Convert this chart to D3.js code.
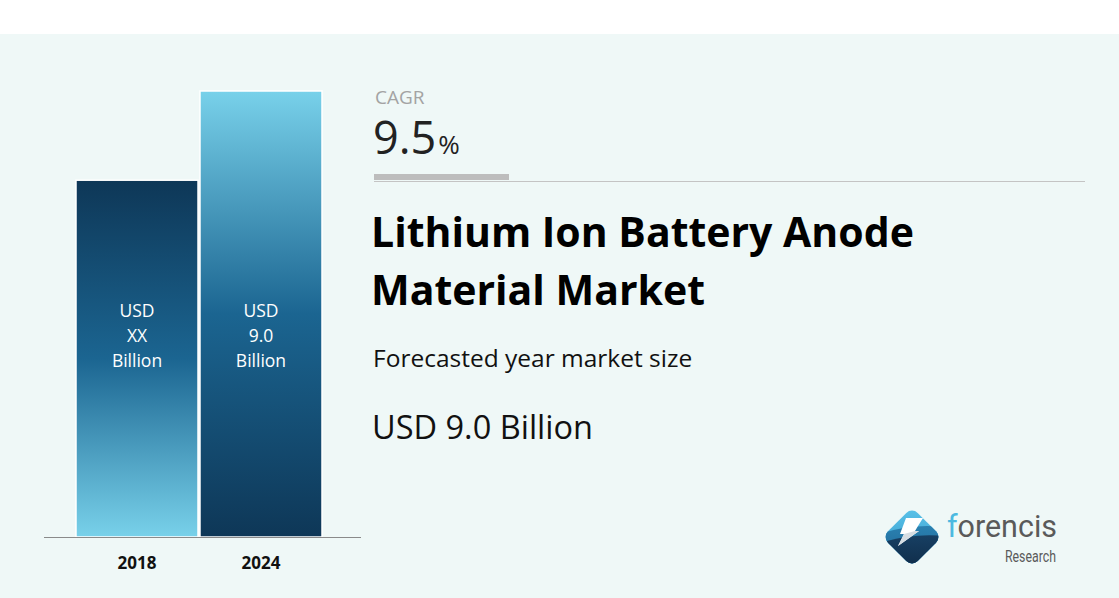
<!DOCTYPE html>
<html>
<head>
<meta charset="utf-8">
<script src="https://cdn.jsdelivr.net/npm/d3@7"></script>
<style>
  html, body { margin: 0; padding: 0; background: #ffffff; }
  svg { display: block; }
</style>
</head>
<body>
<script>
// Chart size
const width = 1119;
const height = 598;

// Data
const years = ['2018', '2024'];
const marketValues = [7.2, 9.0];
const barLabels = [['USD', 'XX', 'Billion'], ['USD', '9.0', 'Billion']];
const cagrText = '9.5';
const titleLines = ['Lithium Ion Battery Anode', 'Material Market'];
const subtitle = 'Forecasted year market size';
const forecastText = 'USD 9.0 Billion';

const mainFont = '"Open Sans", "Noto Sans", sans-serif';

const svg = d3.select('body')
  .append('svg')
  .attr('width', width)
  .attr('height', height);

// Panel background below the white strip
svg.append('rect')
  .attr('x', 0).attr('y', 34)
  .attr('width', width).attr('height', height - 34)
  .attr('fill', '#eff8f7');

const defs = svg.append('defs');

/**
 * Vertical gradient with the given stops
 */
function addGradient(id, stops) {
  const g = defs.append('linearGradient')
    .attr('id', id)
    .attr('x1', 0).attr('y1', 0)
    .attr('x2', 0).attr('y2', 1);
  stops.forEach(s => {
    g.append('stop').attr('offset', s[0]).attr('stop-color', s[1]);
  });
}

addGradient('barDown', [[0, '#0e3757'], [0.5, '#1b6591'], [1, '#78d1ea']]);
addGradient('barUp', [[0, '#78d1ea'], [0.5, '#1b6591'], [1, '#0e3757']]);
addGradient('logoTop', [[0, '#5cc4ea'], [1, '#2f93c6']]);
addGradient('logoMid', [[0, '#2a80b0'], [1, '#1d6391']]);
addGradient('logoDark', [[0, '#173f63'], [1, '#0f2c48']]);

// Scales
const x = d3.scaleBand()
  .domain(years)
  .range([76, 322])
  .paddingInner(0.016);

const y = d3.scaleLinear()
  .domain([0, 9.0])
  .range([537, 91]);

// Bars
svg.selectAll('.bar')
  .data(years)
  .enter()
  .append('rect')
  .attr('class', 'bar')
  .attr('x', d => x(d))
  .attr('y', (d, i) => y(marketValues[i]))
  .attr('width', x.bandwidth())
  .attr('height', (d, i) => y(0) - y(marketValues[i]))
  .attr('fill', (d, i) => i === 0 ? 'url(#barDown)' : 'url(#barUp)')
  .attr('stroke', '#ffffff')
  .attr('stroke-width', 1.5);

// Labels inside the bars
years.forEach((yr, i) => {
  svg.append('text')
    .attr('x', x(yr) + x.bandwidth() / 2)
    .attr('y', 317)
    .attr('text-anchor', 'middle')
    .attr('fill', '#ffffff')
    .style('font-family', mainFont)
    .style('font-size', '17.5px')
    .selectAll('tspan')
    .data(barLabels[i])
    .enter()
    .append('tspan')
    .attr('x', x(yr) + x.bandwidth() / 2)
    .attr('dy', (d, j) => j === 0 ? 0 : 25)
    .text(d => d);
});

// Baseline axis
const xAxis = d3.axisBottom(x).tickSize(0).tickPadding(20);
const axisG = svg.append('g')
  .attr('transform', `translate(0, ${y(0)})`)
  .call(xAxis);
axisG.select('.domain').remove();
axisG.selectAll('text')
  .style('font-family', mainFont)
  .style('font-size', '17px')
  .style('font-weight', 'bold')
  .attr('fill', '#111111');
svg.append('line')
  .attr('x1', 44).attr('x2', 361)
  .attr('y1', y(0) + 0.5).attr('y2', y(0) + 0.5)
  .attr('stroke', '#8a8a8a')
  .attr('stroke-width', 1);

// CAGR block
svg.append('text')
  .attr('x', 375).attr('y', 104)
  .attr('fill', '#a3a3a3')
  .style('font-family', mainFont)
  .style('font-size', '19px')
  .text('CAGR');

const cagr = svg.append('text')
  .attr('x', 373).attr('y', 154)
  .attr('fill', '#222222')
  .style('font-family', mainFont);
cagr.append('tspan').style('font-size', '45px').text(cagrText);
cagr.append('tspan').style('font-size', '26px').attr('dx', 2).text('%');

svg.append('rect')
  .attr('x', 374).attr('y', 174)
  .attr('width', 135).attr('height', 6)
  .attr('fill', '#bdbdbd');
svg.append('line')
  .attr('x1', 374).attr('x2', 1085)
  .attr('y1', 181.5).attr('y2', 181.5)
  .attr('stroke', '#c4c4c4')
  .attr('stroke-width', 1);

// Title
svg.append('text')
  .attr('x', 371).attr('y', 247)
  .attr('fill', '#000000')
  .style('font-family', mainFont)
  .style('font-size', '41px')
  .style('font-weight', 'bold')
  .selectAll('tspan')
  .data(titleLines)
  .enter()
  .append('tspan')
  .attr('x', 371)
  .attr('dy', (d, i) => i === 0 ? 0 : 58)
  .text(d => d);

svg.append('text')
  .attr('x', 373).attr('y', 367)
  .attr('fill', '#111111')
  .style('font-family', mainFont)
  .style('font-size', '24.5px')
  .text(subtitle);

svg.append('text')
  .attr('x', 372).attr('y', 439)
  .attr('fill', '#111111')
  .style('font-family', mainFont)
  .style('font-size', '32.5px')
  .text(forecastText);

// Logo: rounded diamond with layered bands and a white bolt
defs.append('clipPath')
  .attr('id', 'logoClip')
  .append('rect')
  .attr('x', -21).attr('y', -21)
  .attr('width', 42).attr('height', 42)
  .attr('rx', 8)
  .attr('transform', 'translate(912, 537) rotate(45)');
const logoInner = svg.append('g')
  .attr('clip-path', 'url(#logoClip)')
  .append('g')
  .attr('transform', 'translate(912, 537)');
logoInner.append('rect')
  .attr('x', -32).attr('y', -32)
  .attr('width', 64).attr('height', 64)
  .attr('fill', 'url(#logoTop)');
logoInner.append('path')
  .attr('d', 'M-32,-3 Q0,-14 32,-10 L32,32 L-32,32 Z')
  .attr('fill', 'url(#logoMid)');
logoInner.append('path')
  .attr('d', 'M-32,6 Q0,-4 32,-1 L32,32 L-32,32 Z')
  .attr('fill', 'url(#logoDark)');

const bolt = svg.append('g').attr('transform', 'translate(912, 537)');
bolt.append('path')
  .attr('d', 'M-6,-19 L11,-19 L6,-11 L3,-6 L7,-6 L-14,9 L-8,-3 L-12,-3 Z')
  .attr('fill', '#ffffff');
bolt.append('path')
  .attr('d', 'M3,-6 L7,-6 L-14,9 L-8,-3 Z')
  .attr('fill', '#d6dde3');

const brand = svg.append('text')
  .attr('x', 947).attr('y', 537)
  .style('font-family', 'Roboto, sans-serif')
  .style('font-size', '32px')
  .attr('textLength', 110)
  .attr('lengthAdjust', 'spacingAndGlyphs');
brand.append('tspan').attr('fill', '#4cb9e0').text('f');
brand.append('tspan').attr('fill', '#5a5a5a').text('orencis');

svg.append('text')
  .attr('x', 1056).attr('y', 562)
  .attr('text-anchor', 'end')
  .attr('fill', '#5a5a5a')
  .style('font-family', 'Roboto, sans-serif')
  .style('font-size', '16px')
  .attr('textLength', 51)
  .attr('lengthAdjust', 'spacingAndGlyphs')
  .text('Research');
</script>
</body>
</html>
